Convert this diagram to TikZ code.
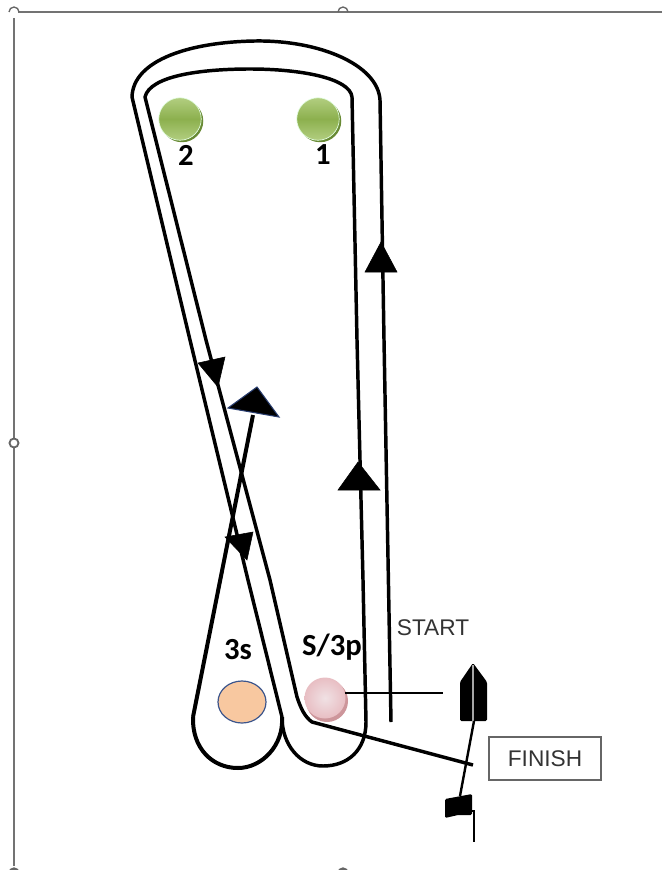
\documentclass[tikz,border=0pt]{standalone}
\usepackage{fontspec}
\setmainfont{Liberation Sans}
\newfontfamily\markfont{Carlito}
\begin{document}
\begin{tikzpicture}[x=0.75pt,y=0.75pt,yscale=-1,xscale=1,
  course/.style={line width=2.6pt,line join=round},
  headup/.style={fill=black,draw=black,line width=0.4pt},
  greenball/.style={circle,minimum size=42.5*0.75pt,inner sep=0pt,draw=green!10!white,line width=0.5pt,top color=greenA,bottom color=greenA,middle color=greenB},
  greenshadow/.style={circle,minimum size=42.5*0.75pt,inner sep=0pt,fill=greenC},
  marklabel/.style={font=\markfont\bfseries\fontsize{23}{25}\selectfont,inner sep=0pt},
  plainlabel/.style={font=\fontsize{17}{19}\selectfont,text=black!80,inner sep=0pt},
  handle/.style={line width=1pt,draw=black!60}]
\definecolor{greenA}{RGB}{178,206,128}
\definecolor{greenB}{RGB}{140,176,78}
\definecolor{greenC}{RGB}{104,138,52}
\useasboundingbox (0,0) rectangle (662,870);

%Frame
\draw [line width=1pt,draw=black!55] (662,12) -- (18,12) ;
\draw [line width=1pt,draw=black!55] (14,18) -- (14,438) ;
\draw [line width=1pt,draw=black!55] (14,448) -- (14,866) ;
\clip (0,0) rectangle (662,870);
\draw [handle] (9,12) arc [start angle=180,end angle=360,radius=5] ;
\draw [handle] (338,12) arc [start angle=180,end angle=360,radius=5] ;
\draw [handle,line width=1.4pt] (14,443) circle [radius=4.5];
\draw [handle,fill=black!60] (14,873) circle [radius=5];
\draw [handle,fill=black!60] (343,873) circle [radius=5];

%Course corners
\coordinate (outerTopR) at (380,100);
\coordinate (outerTopL) at (132,97);
\coordinate (outerLow) at (248,580);
\coordinate (loopR) at (282,717);
\coordinate (innerTopR) at (352,97);
\coordinate (innerTopL) at (145,97);
\coordinate (innerLow) at (270,580);
\coordinate (finishBend) at (312,722);
\coordinate (finishEnd) at (473,765);
\coordinate (gateR) at (366,722);
\coordinate (startEnd) at (391,722);
\coordinate (loopL) at (193,717);
\coordinate (legTop) at (253,415);
\coordinate (startR) at (443,693);
\coordinate (startL) at (345,693);

%Outer lap
\draw [course] (startEnd) -- (384,340) -- (outerTopR) .. controls (378,65) and (320,40) .. (255,41) .. controls (190,42) and (133,60) .. (outerTopL) -- (190,340) -- (outerLow) -- (loopR) ;
%Inner lap
\draw [course] (gateR) -- (363,580) -- (357,340) -- (innerTopR) .. controls (350,78) and (300,69) .. (250,69) .. controls (200,69) and (150,76) .. (innerTopL) -- (206,340) -- (innerLow) -- (297,697) .. controls (301,709) and (305,717) .. (finishBend) -- (finishEnd) ;
%Bottom loops
\draw [course] (loopR) .. controls (282,745) and (300,766) .. (323,766) .. controls (348,766) and (366,750) .. (gateR) ;
\draw [course,line width=3pt] (loopL) .. controls (192,748) and (212,768) .. (238,768) .. controls (262,768) and (284,745) .. (loopR) ;
%Third leg
\draw [course,line width=3pt] (loopL) -- (legTop) ;

%Heads
\path [headup] (381,242) -- (365,272) -- (397,272) -- cycle ;
\path [headup] (358,462) -- (338,490) -- (380,490) -- cycle ;
\path [headup] (198,363) -- (225,357) -- (218,387) -- cycle ;
\path [headup] (225,537) -- (253,532) -- (247,560) -- cycle ;
\path [fill=black,draw={rgb,255:red,40;green,60;blue,110},line width=0.8pt] (257,387) -- (228,408) -- (279,417) -- cycle ;

%Marks
\node [greenshadow] (shadowTwo) at (182,121) {};
\node [greenball] (markTwo) at (180,119) {};
\node [greenshadow] (shadowOne) at (320,121) {};
\node [greenball] (markOne) at (318,119) {};
\node [circle,minimum size=42*0.75pt,inner sep=0pt,fill={rgb,255:red,205;green,150;blue,155}] (shadowS) at (327,701) {};
\node [circle,minimum size=41*0.75pt,inner sep=0pt,inner color={rgb,255:red,240;green,225;blue,228},outer color={rgb,255:red,232;green,190;blue,195}] (markS) at (325,698) {};
\draw [fill={rgb,255:red,248;green,200;blue,160},draw={rgb,255:red,60;green,85;blue,140},line width=0.9pt] (242,702) ellipse [x radius=24,y radius=21];

%Start line
\draw [line width=1.8pt] (startL) -- (startR) ;

%Boat
\path [fill=black,rounded corners=1pt] (473,663) -- (487,682) -- (487,721) -- (460,721) -- (460,682) -- cycle ;
\draw [line width=0.9pt,draw=black!35] (473,665) -- (473,721) ;
%Finish line
\draw [line width=1.8pt] (474,721) -- (460,796) ;

%Flag
\path [fill=black,rounded corners=1pt] (445,799) -- (472,794) -- (472,815) -- (458,815) -- (445,818) -- cycle ;
\draw [line width=2.2pt] (470,811) -- (474,811) -- (474,842) ;

% Text Node
\node [marklabel] (labelTwo) at (186,155) {2};
% Text Node
\node [marklabel] (labelOne) at (323,155) {1};
% Text Node
\node [marklabel] (labelThree) at (238,650) {3s};
% Text Node
\node [marklabel] (labelS) at (332,647) {S/3p};
% Text Node
\node [plainlabel] (labelStart) at (433,628) {START};
% Text Node
\node [plainlabel,draw=black!60,line width=0.8pt,minimum width=112*0.75pt,minimum height=43*0.75pt] (labelFinish) at (545,758.5) {FINISH};
\end{tikzpicture}
\end{document}
